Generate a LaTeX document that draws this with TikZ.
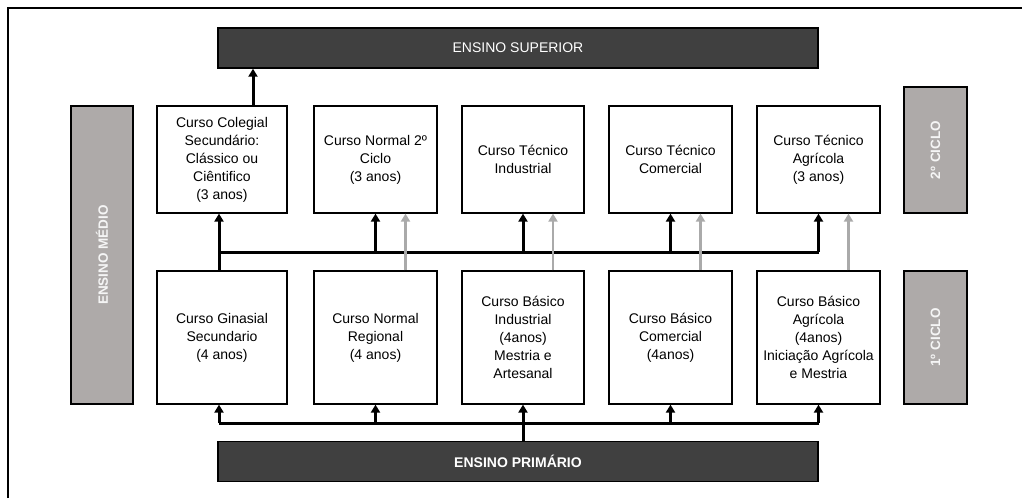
\documentclass[tikz,border=0pt]{standalone}
\usepackage{fontspec}
\setmainfont{Liberation Sans}
\usetikzlibrary{arrows.meta}

\definecolor{barcol}{HTML}{404040}
\definecolor{cyclecol}{HTML}{AEAAA9}
\definecolor{grayarrow}{HTML}{AAAAAA}

\tikzset{
  course/.style={draw, line width=1.2pt, fill=white, align=center,
    font=\fontsize{14}{18}\selectfont, inner sep=0pt},
  levelbar/.style={draw, line width=1.4pt, fill=barcol, text=white,
    minimum width=600pt, minimum height=40pt, inner sep=0pt,
    font=\fontsize{14}{18}\selectfont},
  cyclebox/.style={draw, line width=1.5pt, fill=cyclecol, text=white!96!black,
    inner sep=0pt, font=\fontsize{13.5}{15}\selectfont\bfseries},
  blackarrow/.style={line width=3pt, -{Triangle[length=8pt,width=9pt]}},
  grayup/.style={line width=2.8pt, grayarrow, -{Triangle[length=8pt,width=9pt]}},
  busline/.style={line width=3pt}
}

\begin{document}
\begin{tikzpicture}[x=1pt, y=-1pt]

  \useasboundingbox (0,0) rectangle (1022,498);

  % outer frame (only left and top edges are in view)
  \draw[line width=1.6pt] (8,498) -- (8,8) -- (1022,8);

  % levels
  \node[levelbar] (sup) at (518,48) {ENSINO SUPERIOR};
  \node[levelbar, font=\fontsize{14}{18}\selectfont\bfseries] (prim) at (518,461.5) {ENSINO PRIMÁRIO};

  % side labels
  \node[cyclebox, minimum width=62pt, minimum height=298pt] (medio) at (102,255)
    {\rotatebox{90}{ENSINO MÉDIO}};
  \node[cyclebox, minimum width=63pt, minimum height=126pt] (cic2) at (935.5,150)
    {\rotatebox{90}{2º CICLO}};
  \node[cyclebox, minimum width=63pt, minimum height=133pt] (cic1) at (935.5,337.5)
    {\rotatebox{90}{1º CICLO}};

  % 2o ciclo courses
  \node[course, minimum width=130pt, minimum height=107pt] (t1) at (222,159.5)
    {Curso Colegial\\Secundário:\\Clássico ou\\Ciêntifico\\(3 anos)};
  \node[course, minimum width=123pt, minimum height=107pt] (t2) at (375.5,159.5)
    {Curso Normal 2º\\Ciclo\\(3 anos)};
  \node[course, minimum width=122pt, minimum height=107pt] (t3) at (523,159.5)
    {Curso Técnico\\Industrial};
  \node[course, minimum width=123pt, minimum height=107pt] (t4) at (670.5,159.5)
    {Curso Técnico\\Comercial};
  \node[course, minimum width=123pt, minimum height=107pt] (t5) at (818.5,159.5)
    {Curso Técnico\\Agrícola\\(3 anos)};

  % 1o ciclo courses
  \node[course, minimum width=130pt, minimum height=133pt] (b1) at (222,337.5)
    {Curso Ginasial\\Secundario\\(4 anos)};
  \node[course, minimum width=123pt, minimum height=133pt] (b2) at (375.5,337.5)
    {Curso Normal\\Regional\\(4 anos)};
  \node[course, minimum width=122pt, minimum height=133pt] (b3) at (523,337.5)
    {Curso Básico\\Industrial\\(4anos)\\Mestria e\\Artesanal};
  \node[course, minimum width=123pt, minimum height=133pt] (b4) at (670.5,337.5)
    {Curso Básico\\Comercial\\(4anos)};
  \node[course, minimum width=123pt, minimum height=133pt] (b5) at (818.5,337.5)
    {Curso Básico\\Agrícola\\(4anos)\\Iniciação Agrícola\\e Mestria};

  % upper bus
  \coordinate (jt) at (219,252);
  \draw[blackarrow] (b1.north -| jt) -- (t1.south -| jt);
  \draw[busline] (jt) -- (t5 |- jt);
  \foreach \k in {2,3,4,5}
    \draw[blackarrow] (t\k |- jt) -- (t\k.south);

  % passages from 1o to 2o ciclo
  \foreach \k in {2,3,4,5}
    \draw[grayup] ([xshift=30pt]b\k.north) -- ([xshift=30pt]t\k.south);

  % to ensino superior
  \coordinate (js) at (253,0);
  \draw[blackarrow] (t1.north -| js) -- (sup.south -| js);

  % lower bus
  \coordinate (jb) at (219,423);
  \draw[busline] (prim.north -| b3) -- (b3 |- jb);
  \draw[busline] (jb) -- (b5 |- jb);
  \draw[blackarrow] (jb) -- (b1.south -| jb);
  \foreach \k in {2,3,4,5}
    \draw[blackarrow] (b\k |- jb) -- (b\k.south);

\end{tikzpicture}
\end{document}
